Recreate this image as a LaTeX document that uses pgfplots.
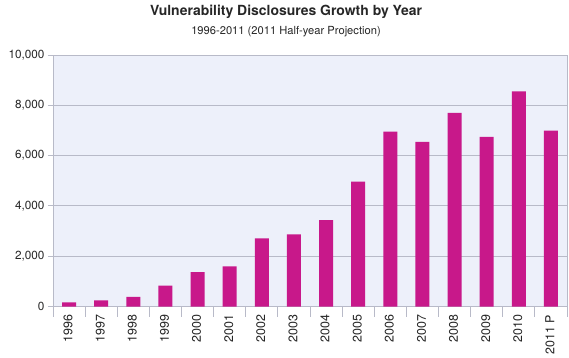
\documentclass[border=0pt]{standalone}
\usepackage{fontspec}
\setmainfont{TeX Gyre Heros}
\usepackage{pgfplots}
\pgfplotsset{compat=1.18}
\definecolor{barc}{RGB}{200,24,138}
\definecolor{bgc}{RGB}{237,240,250}
\definecolor{gridc}{RGB}{184,186,200}
\begin{document}
\begin{tikzpicture}[x=1bp,y=1bp]
\path[use as bounding box] (-53bp,-51.5bp) rectangle (516bp,306.5bp);
\begin{axis}[
  at={(0,0)}, anchor=south west,
  width=514bp, height=251.5bp, scale only axis,
  xmin=-0.5, xmax=15.5, ymin=0, ymax=10000,
  axis background/.style={fill=bgc},
  axis line style={gridc, line width=0.8bp},
  ybar, bar width=14bp,
  xtick={0,...,15},
  xticklabels={1996,1997,1998,1999,2000,2001,2002,2003,2004,2005,2006,2007,2008,2009,2010,2011 P},
  minor xtick={-0.5,0.5,...,15.5},
  major x tick style={draw=none},
  minor x tick style={gridc, line width=0.8bp},
  major y tick style={gridc, line width=0.8bp},
  tick align=outside,
  major tick length=5bp, minor tick length=10bp,
  xtick pos=bottom, ytick pos=left,
  ytick={0,2000,...,10000},
  ymajorgrids, grid style={gridc, line width=0.8bp},
  scaled y ticks=false,
  /pgf/number format/assume math mode=true,
  yticklabel style={/pgf/number format/1000 sep={,}, /pgf/number format/fixed, font=\fontsize{11.8}{13}\selectfont},
  tick label style={text=black!85},
  xticklabel style={rotate=90, anchor=east, font=\fontsize{12.5}{14}\selectfont, yshift=1bp},
]
\addplot[fill=barc, draw=none] coordinates {
(0,163) (1,240) (2,380) (3,830) (4,1370) (5,1600) (6,2710) (7,2870)
(8,3430) (9,4970) (10,6950) (11,6550) (12,7700) (13,6740) (14,8550) (15,6990)};
\end{axis}
\node[anchor=base, font=\bfseries\fontsize{14}{16}\selectfont, text=black!85] at (233bp,290.5bp) {Vulnerability Disclosures Growth by Year};
\node[anchor=base, font=\fontsize{11.2}{13}\selectfont, text=black!85] at (233bp,272bp) {1996-2011 (2011 Half-year Projection)};
\end{tikzpicture}
\end{document}
